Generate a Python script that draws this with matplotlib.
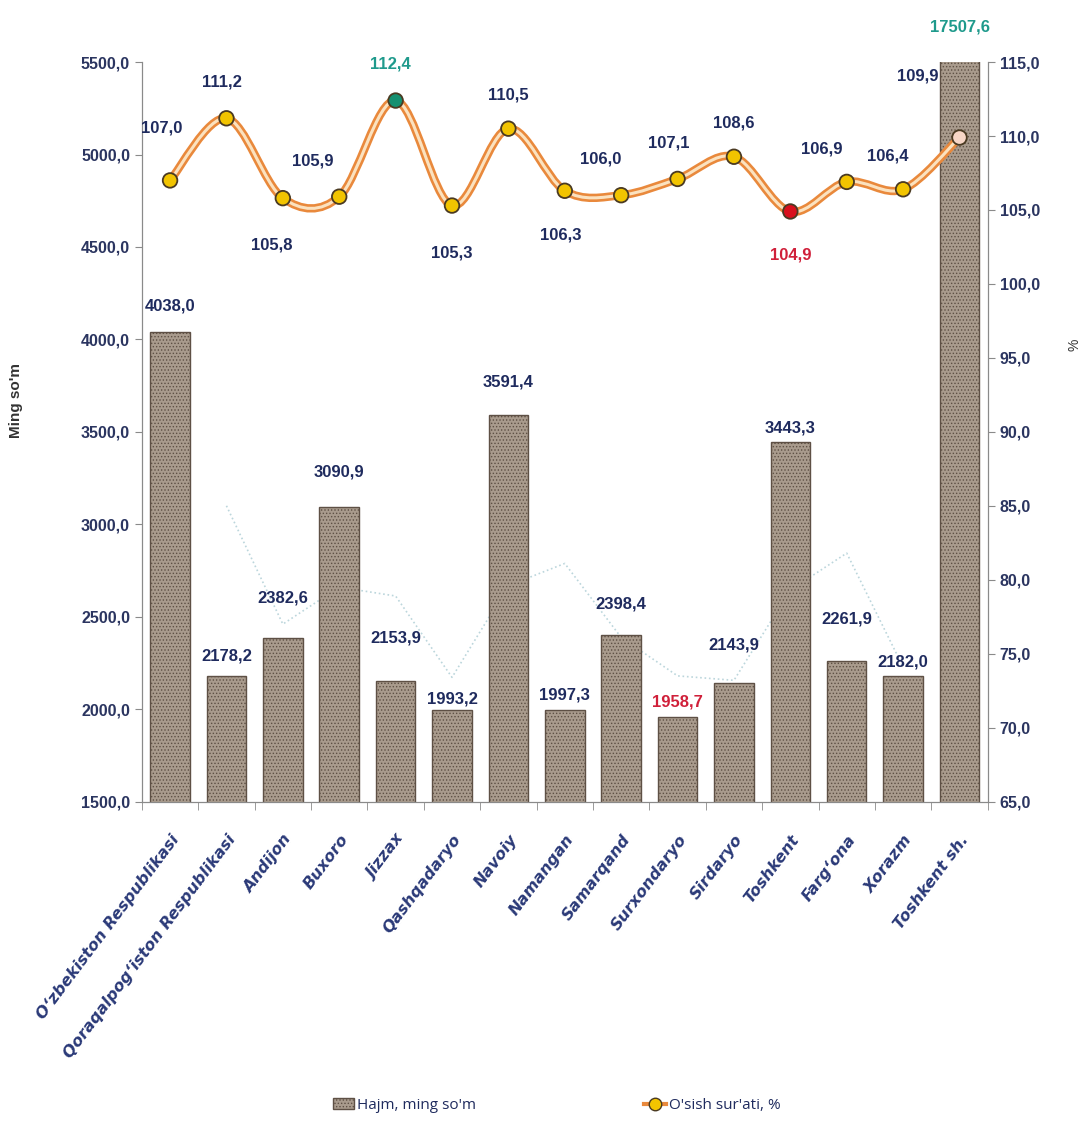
import matplotlib
matplotlib.use("Agg")
import matplotlib.pyplot as plt
from matplotlib.path import Path
from matplotlib.patches import PathPatch, Patch
from matplotlib.lines import Line2D
import numpy as np

regions = [
    "O‘zbekiston Respublikasi", "Qoraqalpog‘iston Respublikasi", "Andijon",
    "Buxoro", "Jizzax", "Qashqadaryo", "Navoiy", "Namangan", "Samarqand",
    "Surxondaryo", "Sirdaryo", "Toshkent", "Farg‘ona", "Xorazm", "Toshkent sh.",
]
volume = [4038.0, 2178.2, 2382.6, 3090.9, 2153.9, 1993.2, 3591.4, 1997.3,
          2398.4, 1958.7, 2143.9, 3443.3, 2261.9, 2182.0, 17507.6]
growth = [107.0, 111.2, 105.8, 105.9, 112.4, 105.3, 110.5, 106.3,
          106.0, 107.1, 108.6, 104.9, 106.9, 106.4, 109.9]
# faint dotted trace seen behind the bars (% axis), regions 1..13
faint_idx = [1, 2, 3, 4, 5, 6, 7, 8, 9, 10, 11, 12, 13]
faint_pct = [85.0, 77.0, 79.5, 78.9, 73.4, 79.6, 81.1, 76.1, 73.5, 73.2,
             79.3, 81.8, 74.1]

NAVY = "#1f2b5e"
plt.rcParams["font.family"] = ["Liberation Sans Narrow", "Liberation Sans", "DejaVu Sans"]
plt.rcParams["hatch.linewidth"] = 0.6
plt.rcParams["hatch.color"] = "#7d6d60"

fig = plt.figure(figsize=(10.83, 11.29), dpi=100)
ax1 = fig.add_axes([0.131, 0.29, 0.781, 0.655])
ax2 = ax1.twinx()

x = np.arange(len(regions))
ylo, yhi = 1500, 5500
plo, phi = 65, 115

# faint trace converted into the left-axis units so it sits behind the bars
faint_left = [ylo + (v - plo) * (yhi - ylo) / (phi - plo) for v in faint_pct]
ax1.plot(faint_idx, faint_left, ls=":", lw=1.2, color="#bcd6dc", zorder=1)

ax1.bar(x, volume, width=0.7, color="#a99b8d", edgecolor="#5e5045",
        linewidth=1.0, hatch=".....", zorder=2)
ax1.set_ylim(ylo, yhi)
ax1.set_xlim(-0.5, len(regions) - 0.5)
ax1.set_yticks(np.arange(1500, 5501, 500))
ax1.set_yticklabels([f"{v:.1f}".replace(".", ",") for v in np.arange(1500, 5501, 500)])

# label centre height above bar top, in pixels
bar_dy = [26, 20, 40, 35, 43, 11, 33, 15, 31, 15, 38, 14, 42, 14, 0]
for i, v in enumerate(volume):
    txt = f"{v:.1f}".replace(".", ",")
    if v > yhi:
        ax1.annotate(txt, (i, 1.0), xycoords=ax1.get_xaxis_transform(),
                     xytext=(0, 25), textcoords="offset points",
                     ha="center", va="center", fontsize=12, color="#1f9a8c",
                     fontweight="bold")
        continue
    col = "#d0203a" if i == 9 else NAVY
    ax1.annotate(txt, (i, v), xytext=(0, bar_dy[i] * 0.72), textcoords="offset points",
                 ha="center", va="center", fontsize=12, fontweight="bold",
                 color=col, zorder=5)

# growth line: smooth Bezier through the points
pts = np.column_stack([x, growth]).astype(float)
verts = [tuple(pts[0])]
codes = [Path.MOVETO]
for i in range(len(pts) - 1):
    p0 = pts[i - 1] if i > 0 else pts[i]
    p1, p2 = pts[i], pts[i + 1]
    p3 = pts[i + 2] if i + 2 < len(pts) else pts[i + 1]
    c1 = p1 + (p2 - p0) / 6.0
    c2 = p2 - (p3 - p1) / 6.0
    verts += [tuple(c1), tuple(c2), tuple(p2)]
    codes += [Path.CURVE4] * 3
path = Path(verts, codes)
ax2.add_patch(PathPatch(path, facecolor="none", edgecolor="#e9893c", lw=6, zorder=3))
ax2.add_patch(PathPatch(path, facecolor="none", edgecolor="#fbe2bf", lw=2.2, zorder=4))

mcolors = ["#f2c400"] * len(growth)
mcolors[4] = "#159070"
mcolors[11] = "#d8101c"
mcolors[14] = "#f7d6c6"
ax2.scatter(x, growth, s=110, c=mcolors, edgecolors="#4a3a22", linewidths=1.3, zorder=6)
ax2.set_ylim(plo, phi)
ax2.set_yticks(np.arange(65, 116, 5))
ax2.set_yticklabels([f"{v:.1f}".replace(".", ",") for v in np.arange(65, 116, 5)])

# growth labels (offset in points, positions matched to the reference)
lab_off = [(-6, 38), (-3, 26), (-8, -34), (-19, 26), (-4, 26), (0, -34),
           (0, 24), (-3, -32), (-15, 26), (-6, 26), (0, 24), (0, -31),
           (-18, 24), (-11, 24), (-30, 44)]
for i, v in enumerate(growth):
    col = NAVY
    if i == 4:
        col = "#1f9a8c"
    elif i == 11:
        col = "#d0203a"
    dx, dy = lab_off[i]
    ax2.annotate(f"{v:.1f}".replace(".", ","), (i, v), xytext=(dx, dy),
                 textcoords="offset points", ha="center", va="center",
                 fontsize=12, fontweight="bold", color=col, zorder=7)

# axes styling
for ax in (ax1, ax2):
    ax.spines["top"].set_visible(False)
    for s in ("left", "right", "bottom"):
        ax.spines[s].set_color("#8a8a8a")
ax1.tick_params(axis="y", colors="#8a8a8a", labelcolor="#2b3560", labelsize=11.5,
                length=5, direction="out")
ax2.tick_params(axis="y", colors="#8a8a8a", labelcolor="#2b3560", labelsize=11.5,
                length=5, direction="out")
for lab in ax1.get_yticklabels() + ax2.get_yticklabels():
    lab.set_fontweight("bold")

ax1.set_xticks(x)
ax1.set_xticklabels(regions, rotation=53, ha="right", rotation_mode="anchor",
                    fontsize=11.5, fontstyle="italic", fontweight="bold",
                    color="#2b3a78", family=["DejaVu Sans"])
ax1.tick_params(axis="x", length=0, pad=22)
ax1.set_xticks(np.arange(-0.5, len(regions), 1), minor=True)
ax1.tick_params(axis="x", which="minor", length=6, color="#8a8a8a")

fig.text(0.015, 0.645, "Ming so'm", rotation=90, ha="center", va="center",
         fontsize=11, fontweight="bold", color="#333333",
         family=["Liberation Sans", "DejaVu Sans"])
fig.text(0.992, 0.695, "%", rotation=90, ha="center", va="center",
         fontsize=10, color="#333333")

handles = [
    Patch(facecolor="#a99b8d", edgecolor="#5e5045", hatch=".....", label="Hajm, ming so'm"),
    Line2D([0], [0], color="#e9893c", lw=3, marker="o", markersize=9,
           markerfacecolor="#f2c400", markeredgecolor="#4a3a22", label="O'sish sur'ati, %"),
]
leg = fig.legend(handles=handles, loc="lower center", bbox_to_anchor=(0.514, 0.002),
                 ncol=2, frameon=False, columnspacing=11, handlelength=1.4,
                 handletextpad=0.2, prop={"family": "Open Sans", "size": 11})
for t in leg.get_texts():
    t.set_color(NAVY)

fig.savefig("out.png", dpi=100)
